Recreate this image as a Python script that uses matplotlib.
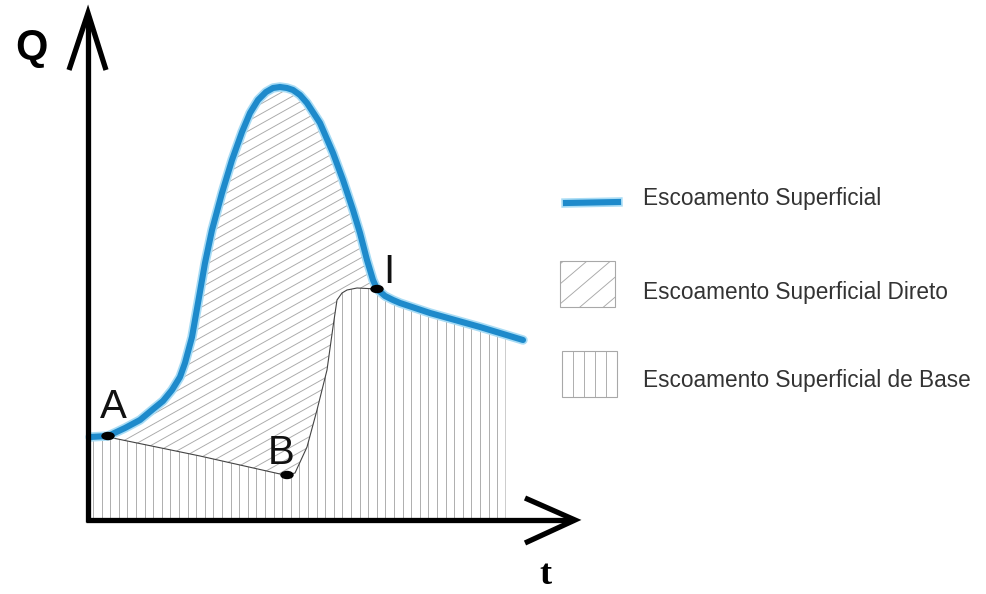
import numpy as np
import matplotlib
matplotlib.use("Agg")
from matplotlib import pyplot as plt
from matplotlib.patches import Rectangle, Ellipse, Polygon
from matplotlib.collections import LineCollection

plt.rcParams['font.family'] = ['Liberation Sans', 'DejaVu Sans']

# hydrograph (drawing units ~ pixels, y grows downward)
curve_x = [90, 108, 125, 140, 152, 163, 172, 180, 185, 192, 198, 205, 212, 222,
           232, 242, 250, 258, 266, 273, 280, 287, 293, 300, 307, 320, 333, 343,
           353, 360, 367, 373, 377, 385, 393, 400, 430, 480, 523]
curve_y = [437, 436, 428, 420, 410, 401, 390, 377, 363, 337, 303, 263, 230, 193,
           160, 132, 113, 100, 92, 88, 87, 88, 90, 95, 103, 123, 153, 180,
           210, 233, 260, 280, 289, 296, 300, 303, 313, 327, 340]

# base flow separation line from A through B to I
base_x = [108, 200, 280, 287, 295, 307, 317, 327, 333, 337, 342, 347, 357, 377]
base_y = [437, 456, 474, 475, 473, 447, 410, 370, 327, 300, 293, 290, 288, 289]

point_names = ['A', 'B', 'I']
point_x = [108, 287, 377]
point_y = [436, 475, 289]
label_x = [113, 281, 389]
label_y = [418, 464, 283]

legend_labels = ['Escoamento Superficial',
                 'Escoamento Superficial Direto',
                 'Escoamento Superficial de Base']
legend_y = [198, 292, 381]

blue = '#1e8acb'
glow = '#a8dcf5'
hatch_gray = '#a8a8a8'


def vertical_hatch(ax, clip, x0, x1, step):
    segs = [[(x, 0), (x, 594)] for x in np.arange(x0, x1, step)]
    lc = LineCollection(segs, colors=hatch_gray, linewidths=0.65)
    ax.add_collection(lc)
    lc.set_clip_path(clip)


def diagonal_hatch(ax, clip, slope, step):
    segs = [[(0, c), (986, c - slope * 986)] for c in np.arange(0, 1300, step)]
    lc = LineCollection(segs, colors=hatch_gray, linewidths=0.65)
    ax.add_collection(lc)
    lc.set_clip_path(clip)


fig = plt.figure(figsize=(9.86, 5.94), dpi=100)
ax = fig.add_axes([0, 0, 1, 1])
ax.set_xlim(0, 986)
ax.set_ylim(594, 0)
ax.axis('off')

cx = np.array(curve_x)
cy = np.array(curve_y)
bx = np.array(base_x)
by = np.array(base_y)
i_a = 1
i_i = curve_x.index(377)

# base flow region (vertical hatch)
x_end = 505
y_end = np.interp(x_end, cx, cy)
tail = cx[i_i:] <= x_end
poly_x = np.concatenate([[88, 88], cx[:i_a], bx, cx[i_i:][tail], [x_end, x_end]])
poly_y = np.concatenate([[520, 437], cy[:i_a], by, cy[i_i:][tail], [y_end, 520]])
base_patch = Polygon(np.column_stack([poly_x, poly_y]), facecolor='none', edgecolor='none')
ax.add_patch(base_patch)
vertical_hatch(ax, base_patch, 93, x_end, 8.6)
ax.plot([x_end, x_end], [y_end, 520], color='#c4c4c4', lw=0.6)

# direct runoff region (diagonal hatch)
dx = np.concatenate([cx[i_a:i_i + 1], bx[::-1]])
dy = np.concatenate([cy[i_a:i_i + 1], by[::-1]])
direct_patch = Polygon(np.column_stack([dx, dy]), facecolor='none', edgecolor='none')
ax.add_patch(direct_patch)
diagonal_hatch(ax, direct_patch, 0.56, 10)

ax.plot(bx, by, color='#444444', lw=0.8)

# hydrograph line
ax.plot(cx, cy, color=glow, lw=6.8, solid_capstyle='round', solid_joinstyle='round')
ax.plot(cx, cy, color=blue, lw=4.4, solid_capstyle='round', solid_joinstyle='round')

for px, py in zip(point_x, point_y):
    ax.add_patch(Ellipse((px, py), 12, 7, color='black', zorder=5))
for name, lx, ly in zip(point_names, label_x, label_y):
    ax.text(lx, ly, name, fontsize=29, ha='center', va='baseline', color='#111111')

# axes with open arrows
k = dict(color='black', lw=3.8, solid_capstyle='butt', solid_joinstyle='miter')
ax.plot([88, 88], [522, 16], **k)
ax.plot([69, 88, 106], [70, 13, 70], **k)
ax.plot([86, 570], [520, 520], **k)
ax.plot([525, 575, 525], [498, 520, 543], **k)
ax.text(31, 48, 'Q', fontsize=30, fontweight='bold', ha='center', va='center')
ax.text(545, 584, 't', fontsize=26, fontweight='bold', ha='center', va='baseline',
        family='Liberation Serif')

# legend
ax.plot([566, 618], [203, 202], color=glow, lw=6.8)
ax.plot([566, 618], [203, 202], color=blue, lw=4.4)
box2 = Rectangle((560, 261), 55, 46, facecolor='none', edgecolor=hatch_gray, lw=0.8)
ax.add_patch(box2)
diagonal_hatch(ax, box2, 0.85, 20)
box3 = Rectangle((562, 351), 55, 46, facecolor='none', edgecolor=hatch_gray, lw=0.8)
ax.add_patch(box3)
vertical_hatch(ax, box3, 573, 617, 11)
for lab, ty in zip(legend_labels, legend_y):
    ax.text(643, ty, lab, fontsize=16.3, ha='left', va='center', color='#333333')

fig.savefig('out.png', dpi=100)
